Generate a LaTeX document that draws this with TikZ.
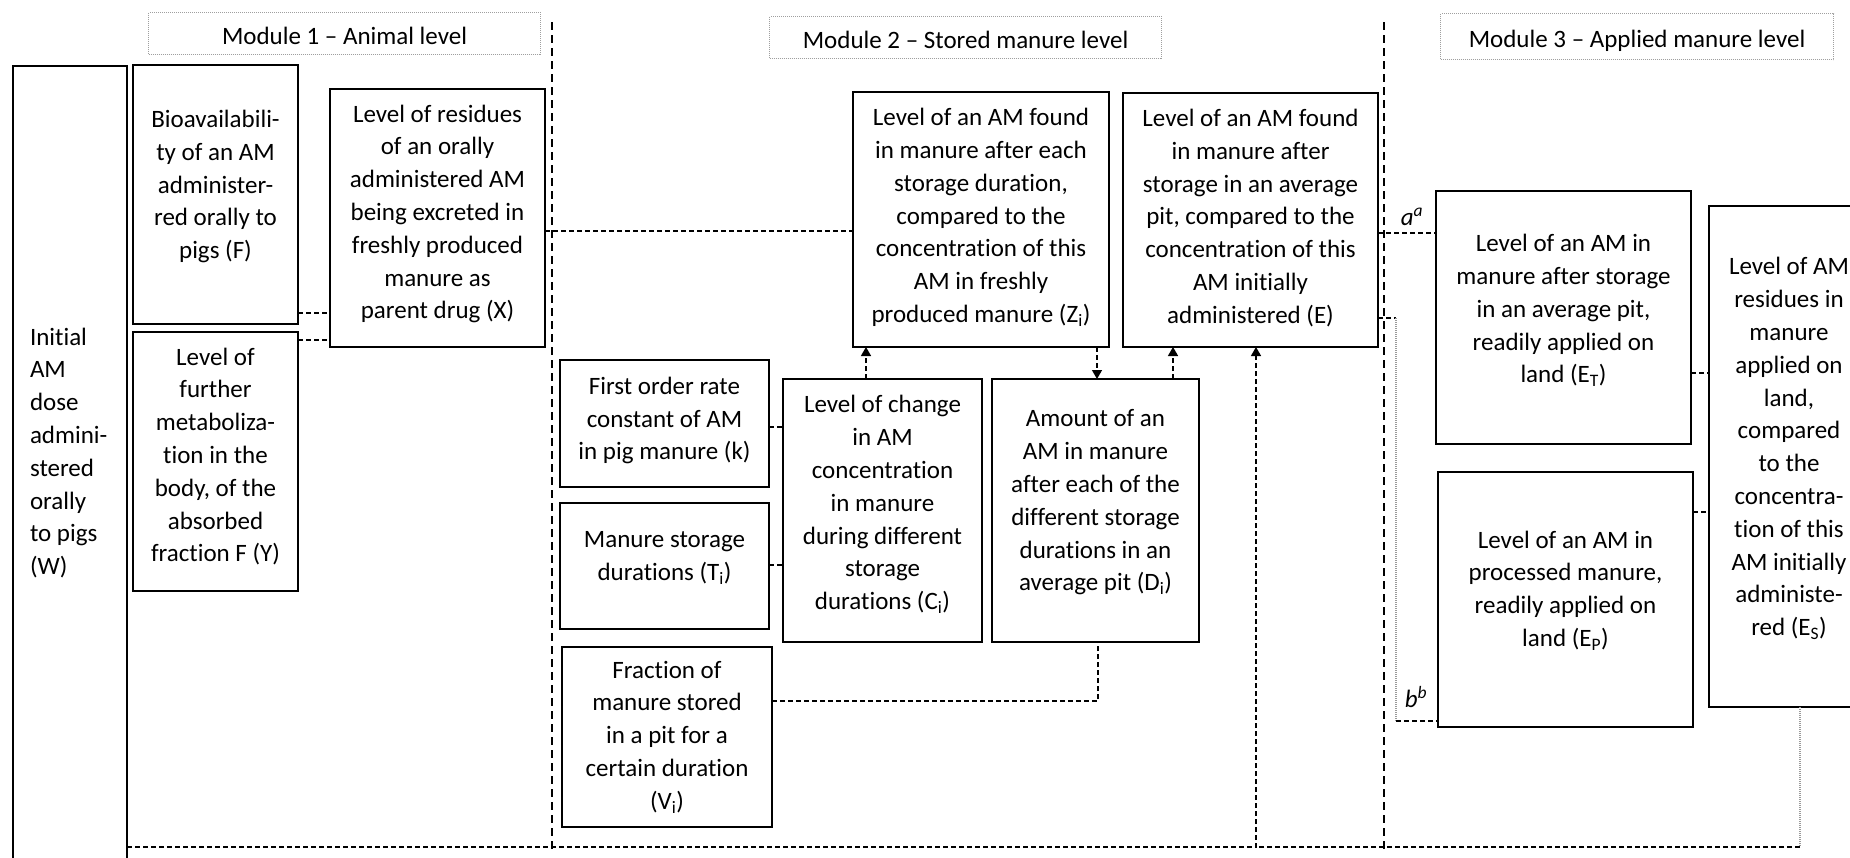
\documentclass[tikz,border=0pt]{standalone}
\usepackage{fontspec}
\setmainfont{Carlito}[Ligatures=NoCommon]
\usetikzlibrary{arrows.meta}
\newcommand\bodyfont{\fontsize{25}{32.8}\selectfont}
% width, height, extra space below the lines (lifts the text), lines
\newcommand\boxtext[4]{\parbox[c][#2pt][c]{#1pt}{\centering #4\par\vspace*{#3pt}}}
\newcommand\sub[1]{\textsubscript{#1}}
\tikzset{
  box/.style={draw, line width=1.8pt, inner sep=0pt, outer sep=0pt, anchor=north west, font=\bodyfont},
  modlabel/.style={draw=gray!75, line width=1.1pt, dash pattern=on 1pt off 1pt, inner sep=0pt,
    anchor=north west, font=\bodyfont, text height=22pt, text depth=0pt},
  conn/.style={line width=1.4pt, dash pattern=on 5pt off 3pt},
  sep/.style={line width=2pt, dash pattern=on 8pt off 5pt},
  faint/.style={draw=gray!80, line width=1.1pt, dash pattern=on 1pt off 1pt},
  tip/.style={-{Triangle[width=10pt,length=9pt]}},
  note/.style={font=\bodyfont\itshape, inner sep=0pt}
}
\begin{document}
\begin{tikzpicture}[x=1pt,y=-1pt]
\useasboundingbox (0,0) rectangle (1850,857);
\clip (0,0) rectangle (1850,857);

% module separators
\draw[sep] (552,22) -- (552,853);
\draw[sep] (1384,22) -- (1384,853);

% module headings
\node[modlabel, minimum width=392pt, minimum height=42pt] (m1) at (148,12) {Module 1 – Animal level};
\node[modlabel, minimum width=392pt, minimum height=42pt] (m2) at (769,16) {Module 2 – Stored manure level};
\node[modlabel, minimum width=393pt, minimum height=46pt] (m3) at (1440,13) {Module 3 – Applied manure level};

% module 1
\node[box, line width=2.2pt] (W) at (13,66) {\parbox[c][820pt][c]{114pt}{\raggedright\leftskip=17pt
  Initial\\AM\\dose\\admini-\\stered\\orally\\to pigs\\(W)\par\vspace*{46pt}}};
\node[box] (F) at (133,65) {\boxtext{165}{259}{16}{Bioavailabili-\\ty of an AM\\administer-\\red orally to\\pigs (F)}};
\node[box] (Y) at (133,332) {\boxtext{165}{259}{10}{Level of\\further\\metaboliza-\\tion in the\\body, of the\\absorbed\\fraction F (Y)}};
\node[box] (X) at (330,89) {\boxtext{215}{258}{8}{Level of residues\\of an orally\\administered AM\\being excreted in\\freshly produced\\manure as\\parent drug (X)}};

% module 2
\node[box] (Z) at (853,92) {\boxtext{256}{255}{4}{Level of an AM found\\in manure after each\\storage duration,\\compared to the\\concentration of this\\AM in freshly\\produced manure (Z\sub{i})}};
\node[box] (E) at (1123,93) {\boxtext{255}{254}{4}{Level of an AM found\\in manure after\\storage in an average\\pit, compared to the\\concentration of this\\AM initially\\administered (E)}};
\node[box] (k) at (560,360) {\boxtext{209}{127}{6}{First order rate\\constant of AM\\in pig manure (k)}};
\node[box] (T) at (560,503) {\boxtext{209}{126}{16}{Manure storage\\durations (T\sub{i})}};
\node[box] (V) at (562,647) {\boxtext{210}{180}{0}{Fraction of\\manure stored\\in a pit for a\\certain duration\\(V\sub{i})}};
\node[box] (C) at (783,379) {\boxtext{199}{263}{12}{Level of change\\in AM\\concentration\\in manure\\during different\\storage\\durations (C\sub{i})}};
\node[box] (D) at (992,379) {\boxtext{207}{263}{16}{Amount of an\\AM in manure\\after each of the\\different storage\\durations in an\\average pit (D\sub{i})}};

% module 3
\node[box] (ET) at (1436,191) {\boxtext{255}{253}{14}{Level of an AM in\\manure after storage\\in an average pit,\\readily applied on\\land (E\sub{T})}};
\node[box] (EP) at (1438,472) {\boxtext{255}{255}{18}{Level of an AM in\\processed manure,\\readily applied on\\land (E\sub{P})}};
\node[box] (Es) at (1709,206) {\boxtext{160}{501}{16}{Level of AM\\residues in\\manure\\applied on\\land,\\compared\\to the\\concentra-\\tion of this\\AM initially\\administe-\\red (E\sub{S})}};

% connector levels
\coordinate (fx) at (0,313);
\coordinate (yx) at (0,340);
\coordinate (xz) at (0,231);
\coordinate (kc) at (0,427);
\coordinate (tc) at (0,565);
\coordinate (cz) at (866,0);
\coordinate (zd) at (1097,0);
\coordinate (de) at (1173,0);
\coordinate (vd) at (1098,701);
\coordinate (we) at (1256,847);
\coordinate (esb) at (1800,847);
\coordinate (ea) at (0,233);
\coordinate (eb1) at (1396,318);
\coordinate (eb2) at (1396,721);
\coordinate (ete) at (0,373);
\coordinate (epe) at (0,512);

% module 1 links
\draw[conn] (F.east |- fx) -- (X.west |- fx);
\draw[conn] (Y.east |- yx) -- (X.west |- yx);
\draw[conn] (X.east |- xz) -- (Z.west |- xz);

% module 2 links
\draw[conn] (k.east |- kc) -- (C.west |- kc);
\draw[conn] (T.east |- tc) -- (C.west |- tc);
\draw[conn, tip] (C.north -| cz) -- (Z.south -| cz);
\draw[conn, tip] (Z.south -| zd) -- (D.north -| zd);
\draw[conn, tip] (D.north -| de) -- (E.south -| de);
\draw[conn] (V.east |- vd) -| (D.south -| vd);
\draw[conn, tip] (W.east |- we) -- (we) -- (E.south -| we);

% module 3 links
\draw[conn] (E.east |- ea) -- (ET.west |- ea);
\node[note] (alab) at (1412,217) {a\textsuperscript{a}};
\draw[conn] (E.east |- eb1) -- (eb1);
\draw[faint] (eb1) -- (eb2);
\draw[conn] (eb2) -- (EP.west |- eb2);
\node[note] (blab) at (1416,697) {b\textsuperscript{b}};
\draw[conn] (ET.east |- ete) -- (Es.west |- ete);
\draw[conn] (EP.east |- epe) -- (Es.west |- epe);
\draw[faint] (Es.south -| esb) -- (esb);
\draw[conn] (esb) -- (we);
\end{tikzpicture}
\end{document}
